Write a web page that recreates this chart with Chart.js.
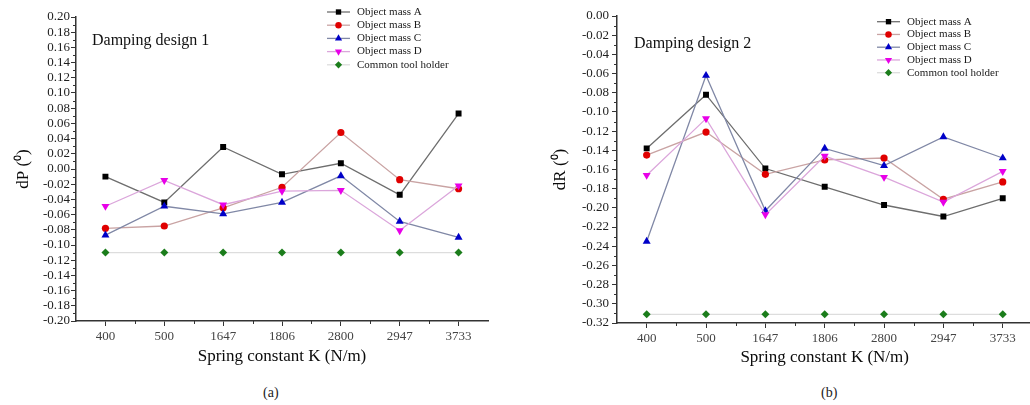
<!DOCTYPE html>
<html>
<head>
<meta charset="utf-8">
<script src="https://cdn.jsdelivr.net/npm/chart.js@4"></script>
<style>
html, body { margin: 0; padding: 0; background: #fff; overflow: hidden; width: 1030px; height: 405px; position: relative; }
.panel { position: absolute; top: 0; height: 375px; }
#pa { left: 0; width: 510px; }
#pb { left: 517px; width: 520px; }
.cap { position: absolute; top: 385px; font: 14px "Liberation Serif", serif; color: #222; }
</style>
</head>
<body>
<div class="panel" id="pa"><canvas id="chartA" width="510" height="375"></canvas></div>
<div class="panel" id="pb"><canvas id="chartB" width="520" height="375"></canvas></div>
<div class="cap" style="left:263px">(a)</div>
<div class="cap" style="left:821px">(b)</div>
<script>
// 两个子图共用的类别与图例名
var categories = ["400", "500", "1647", "1806", "2800", "2947", "3733"];
var seriesNames = ["Object mass A", "Object mass B", "Object mass C", "Object mass D", "Common tool holder"];

// (a) Damping design 1, dP
var dP_A = [-0.010, -0.044, 0.029, -0.007, 0.0075, -0.034, 0.073];
var dP_B = [-0.078, -0.075, -0.051, -0.024, 0.048, -0.014, -0.026];
var dP_C = [-0.087, -0.049, -0.059, -0.044, -0.009, -0.069, -0.090];
var dP_D = [-0.049, -0.015, -0.047, -0.029, -0.028, -0.081, -0.022];
var dP_common = [-0.110, -0.110, -0.110, -0.110, -0.110, -0.110, -0.110];

// (b) Damping design 2, dR
var dR_A = [-0.138, -0.082, -0.159, -0.178, -0.197, -0.209, -0.190];
var dR_B = [-0.145, -0.121, -0.165, -0.150, -0.148, -0.191, -0.173];
var dR_C = [-0.235, -0.062, -0.203, -0.138, -0.156, -0.126, -0.148];
var dR_D = [-0.166, -0.107, -0.207, -0.146, -0.168, -0.194, -0.162];
var dR_common = [-0.311, -0.311, -0.311, -0.311, -0.311, -0.311, -0.311];

var SERIF = '"Liberation Serif", "Times New Roman", serif';
Chart.defaults.font.family = SERIF;

var styles = [
    { line: "#6e6e6e", fill: "#000000", pointStyle: "rect", radius: 4.2, rotation: 0 },
    { line: "#c9a3a3", fill: "#e00000", pointStyle: "circle", radius: 3.6, rotation: 0 },
    { line: "#8088a6", fill: "#0000c8", pointStyle: "triangle", radius: 4.6, rotation: 0 },
    { line: "#dba6db", fill: "#e800e8", pointStyle: "triangle", radius: 4.6, rotation: 180 },
    { line: "#dddddd", fill: "#1b7d1b", pointStyle: "rectRot", radius: 4, rotation: 0 }
];

function buildDatasets(arrays) {
    return arrays.map(function (arr, i) {
        var s = styles[i];
        return {
            label: seriesNames[i],
            data: arr,
            borderColor: s.line,
            borderWidth: 1.3,
            backgroundColor: s.fill,
            pointBackgroundColor: s.fill,
            pointBorderColor: s.fill,
            pointBorderWidth: 0,
            pointStyle: s.pointStyle,
            pointRadius: s.radius,
            pointRotation: s.rotation,
            tension: 0,
            order: 4 - i
        };
    });
}

// 次刻度：x 轴类别中点、y 轴主刻度中点
var minorTicks = {
    id: "minorTicks",
    afterDraw: function (chart) {
        var ctx = chart.ctx, xs = chart.scales.x, ys = chart.scales.y, area = chart.chartArea;
        ctx.save();
        ctx.strokeStyle = "#333";
        ctx.lineWidth = 1;
        ctx.beginPath();
        for (var i = 0; i < categories.length - 1; i++) {
            var px = Math.round((xs.getPixelForValue(i) + xs.getPixelForValue(i + 1)) / 2) + 0.5;
            ctx.moveTo(px, area.bottom);
            ctx.lineTo(px, area.bottom + 3);
        }
        var t = ys.ticks;
        for (var j = 0; j < t.length - 1; j++) {
            var py = Math.round((ys.getPixelForValue(t[j].value) + ys.getPixelForValue(t[j + 1].value)) / 2) + 0.5;
            ctx.moveTo(area.left, py);
            ctx.lineTo(area.left - 3, py);
        }
        ctx.stroke();
        ctx.restore();
    }
};

// 图内图例 + 标注文字
var insideLegend = {
    id: "insideLegend",
    afterDraw: function (chart, args, opts) {
        var ctx = chart.ctx;
        ctx.save();
        ctx.font = "16px " + SERIF;
        ctx.fillStyle = "#111";
        ctx.textBaseline = "middle";
        ctx.fillText(opts.note, opts.noteX, opts.noteY);

        ctx.font = "11px " + SERIF;
        chart.data.datasets.forEach(function (ds, i) {
            var y = opts.y + i * opts.dy;
            ctx.strokeStyle = ds.borderColor;
            ctx.lineWidth = 1.3;
            ctx.beginPath();
            ctx.moveTo(opts.x, y);
            ctx.lineTo(opts.x + 23, y);
            ctx.stroke();
            ctx.fillStyle = ds.pointBackgroundColor;
            ctx.strokeStyle = ds.pointBorderColor;
            Chart.helpers.drawPoint(ctx, {
                pointStyle: ds.pointStyle,
                rotation: ds.pointRotation,
                radius: ds.pointRadius * 0.9,
                borderWidth: 0
            }, opts.x + 11.5, y);
            ctx.fillStyle = "#1a1a1a";
            ctx.fillText(ds.label, opts.x + 30, y);
        });
        ctx.restore();
    }
};

function fmt(v) {
    if (Math.abs(v) < 1e-9) return "0.00";
    return v.toFixed(2);
}

function makeChart(id, arrays, g) {
    return new Chart(document.getElementById(id), {
        type: "line",
        data: { labels: categories, datasets: buildDatasets(arrays) },
        plugins: [minorTicks, insideLegend],
        options: {
            responsive: false,
            animation: false,
            layout: { padding: { top: g.top, right: g.right, left: 0, bottom: 0 } },
            plugins: {
                legend: { display: false },
                tooltip: { enabled: false },
                insideLegend: g.legend
            },
            scales: {
                x: {
                    type: "category",
                    offset: true,
                    afterFit: function (s) { s.height = g.xHeight; },
                    grid: { offset: false, drawOnChartArea: false, drawTicks: true, tickLength: 5, color: "#333" },
                    border: { color: "#333", width: 1.5 },
                    ticks: { color: "#444", font: { size: 13 }, padding: 3, maxRotation: 0 },
                    title: { display: true, text: "Spring constant K (N/m)", color: "#0a0a0a", font: { size: 17 }, padding: { top: 0, bottom: g.xTitlePad } }
                },
                y: {
                    min: g.yMin,
                    max: g.yMax,
                    afterFit: function (s) { s.width = g.yWidth; },
                    grid: { drawOnChartArea: false, drawTicks: true, tickLength: 5, color: "#333" },
                    border: { color: "#333", width: 1.5 },
                    ticks: { stepSize: 0.02, color: "#1e1e1e", font: { size: 13 }, padding: g.yTickPad, autoSkip: false, callback: function (v) { return fmt(v); } },
                    title: { display: true, text: g.yTitle, color: "#0a0a0a", font: { size: 17 }, padding: { top: g.yTitlePad, bottom: 0 } }
                }
            }
        }
    });
}

makeChart("chartA", [dP_A, dP_B, dP_C, dP_D, dP_common], {
    top: 17, right: 22, xHeight: 54, yWidth: 76, yMin: -0.2, yMax: 0.2,
    yTitle: "dP (\u2070)", yTitlePad: 13, xTitlePad: 8, yTickPad: 1,
    legend: { x: 327, y: 12, dy: 13.2, note: "Damping design 1", noteX: 92, noteY: 41 }
});

makeChart("chartB", [dR_A, dR_B, dR_C, dR_D, dR_common], {
    top: 16, right: 1, xHeight: 52, yWidth: 100, yMin: -0.32, yMax: 0,
    yTitle: "dR (\u2070)", yTitlePad: 33, xTitlePad: 7, yTickPad: 3,
    legend: { x: 360, y: 21.7, dy: 12.75, note: "Damping design 2", noteX: 117, noteY: 44 }
});
</script>
</body>
</html>
